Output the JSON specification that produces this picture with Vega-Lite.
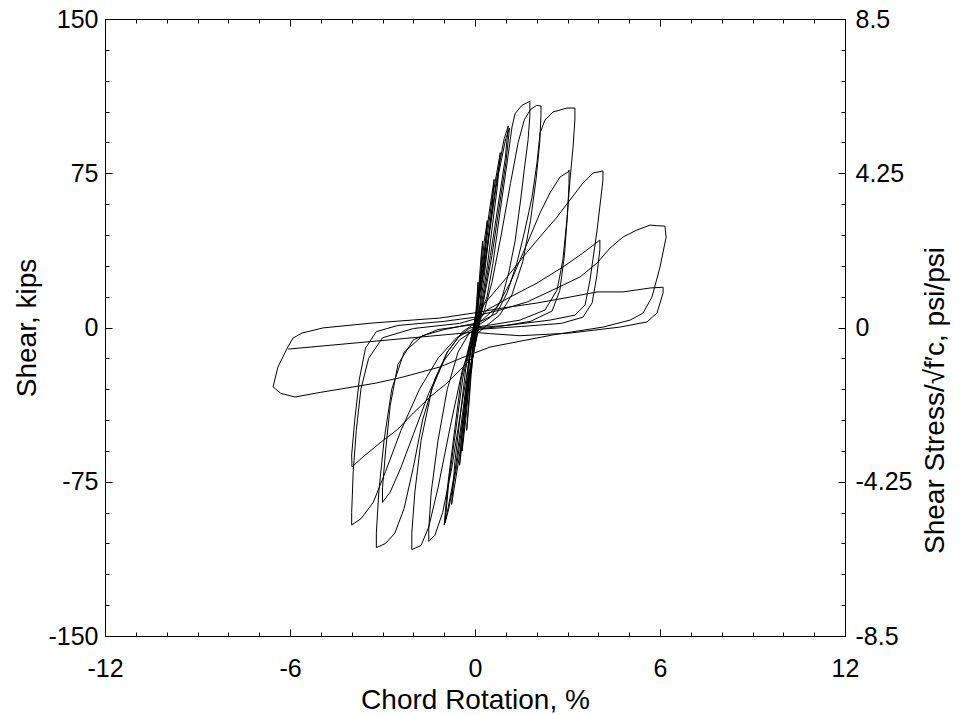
{
  "$schema": "https://vega.github.io/schema/vega-lite/v6.json",
  "width": 740,
  "height": 617,
  "autosize": {"type": "none"},
  "padding": {"left": 105, "top": 19, "right": 122, "bottom": 79},
  "background": "white",
  "config": {
    "view": {"stroke": "black", "strokeWidth": 1},
    "font": "Liberation Sans",
    "axis": {
      "grid": false, "domain": false, "tickColor": "black", "tickWidth": 1,
      "labelColor": "black", "titleColor": "black",
      "labelFont": "Liberation Sans", "titleFont": "Liberation Sans",
      "labelFontSize": 25, "titleFontSize": 28, "titleFontWeight": "normal",
      "labelFlush": false, "labelOverlap": false, "labelBound": false
    }
  },
  "data": {"values": [
    {"i":0,"x":0,"y":0},{"i":1,"x":0.05,"y":12},{"i":2,"x":0.1,"y":22},{"i":3,"x":0.08,"y":10},{"i":4,"x":0.02,"y":0},{"i":5,"x":-0.05,"y":-10},{"i":6,"x":-0.12,"y":-22},{"i":7,"x":-0.08,"y":-10},{"i":8,"x":0,"y":0},
    {"i":9,"x":0.1,"y":15},{"i":10,"x":0.2,"y":35},{"i":11,"x":0.25,"y":42},{"i":12,"x":0.2,"y":30},{"i":13,"x":0.1,"y":8},{"i":14,"x":0.03,"y":0},{"i":15,"x":-0.1,"y":-18},{"i":16,"x":-0.2,"y":-38},{"i":17,"x":-0.27,"y":-50},{"i":18,"x":-0.2,"y":-35},{"i":19,"x":-0.08,"y":-8},{"i":20,"x":0,"y":0},
    {"i":21,"x":0.15,"y":20},{"i":22,"x":0.3,"y":42},{"i":23,"x":0.4,"y":52},{"i":24,"x":0.33,"y":38},{"i":25,"x":0.15,"y":10},{"i":26,"x":0.05,"y":0},{"i":27,"x":-0.15,"y":-20},{"i":28,"x":-0.3,"y":-45},{"i":29,"x":-0.42,"y":-60},{"i":30,"x":-0.33,"y":-42},{"i":31,"x":-0.15,"y":-12},{"i":32,"x":-0.02,"y":0},
    {"i":33,"x":0.2,"y":25},{"i":34,"x":0.45,"y":55},{"i":35,"x":0.62,"y":72},{"i":36,"x":0.55,"y":58},{"i":37,"x":0.3,"y":25},{"i":38,"x":0.08,"y":0},{"i":39,"x":-0.15,"y":-20},{"i":40,"x":-0.35,"y":-48},{"i":41,"x":-0.5,"y":-67},{"i":42,"x":-0.42,"y":-50},{"i":43,"x":-0.2,"y":-15},{"i":44,"x":-0.03,"y":0},
    {"i":45,"x":0.25,"y":28},{"i":46,"x":0.55,"y":62},{"i":47,"x":0.82,"y":85},{"i":48,"x":0.72,"y":68},{"i":49,"x":0.4,"y":30},{"i":50,"x":0.1,"y":0},{"i":51,"x":-0.2,"y":-25},{"i":52,"x":-0.5,"y":-62},{"i":53,"x":-0.76,"y":-86},{"i":54,"x":-0.65,"y":-65},{"i":55,"x":-0.3,"y":-20},{"i":56,"x":-0.05,"y":0},
    {"i":57,"x":0.3,"y":30},{"i":58,"x":0.7,"y":72},{"i":59,"x":0.95,"y":92},{"i":60,"x":1.08,"y":98},{"i":61,"x":0.98,"y":82},{"i":62,"x":0.5,"y":35},{"i":63,"x":0.12,"y":0},{"i":64,"x":-0.25,"y":-28},{"i":65,"x":-0.6,"y":-68},{"i":66,"x":-0.85,"y":-88},{"i":67,"x":-0.97,"y":-95},{"i":68,"x":-0.85,"y":-75},{"i":69,"x":-0.4,"y":-25},{"i":70,"x":-0.05,"y":0},
    {"i":71,"x":0.3,"y":28},{"i":72,"x":0.7,"y":70},{"i":73,"x":1.0,"y":92},{"i":74,"x":1.12,"y":97},{"i":75,"x":1.0,"y":80},{"i":76,"x":0.55,"y":35},{"i":77,"x":0.12,"y":0},{"i":78,"x":-0.3,"y":-30},{"i":79,"x":-0.65,"y":-70},{"i":80,"x":-0.9,"y":-90},{"i":81,"x":-1.0,"y":-96},{"i":82,"x":-0.88,"y":-76},{"i":83,"x":-0.45,"y":-25},{"i":84,"x":-0.05,"y":0},
    {"i":85,"x":0.16,"y":6},{"i":86,"x":0.39,"y":15},{"i":87,"x":0.58,"y":31},{"i":88,"x":0.81,"y":56},{"i":89,"x":1.04,"y":80},{"i":90,"x":1.2,"y":97.5},{"i":91,"x":1.3,"y":104},{"i":92,"x":1.52,"y":108},{"i":93,"x":1.78,"y":110},{"i":94,"x":1.78,"y":103},{"i":95,"x":1.72,"y":91},{"i":96,"x":1.6,"y":77},{"i":97,"x":1.48,"y":62},{"i":98,"x":1.3,"y":42},{"i":99,"x":1.1,"y":27},{"i":100,"x":0.85,"y":13},{"i":101,"x":0.5,"y":5},{"i":102,"x":0.1,"y":1},{"i":103,"x":-0.1,"y":-8},{"i":104,"x":-0.4,"y":-35},{"i":105,"x":-0.75,"y":-68},{"i":106,"x":-1.05,"y":-90},{"i":107,"x":-1.3,"y":-101},{"i":108,"x":-1.5,"y":-104},{"i":109,"x":-1.5,"y":-98},{"i":110,"x":-1.42,"y":-80},{"i":111,"x":-1.2,"y":-55},{"i":112,"x":-0.9,"y":-30},{"i":113,"x":-0.55,"y":-12},{"i":114,"x":-0.2,"y":-3},{"i":115,"x":0.05,"y":0},
    {"i":116,"x":0.3,"y":8},{"i":117,"x":0.55,"y":22},{"i":118,"x":0.85,"y":45},{"i":119,"x":1.15,"y":70},{"i":120,"x":1.4,"y":90},{"i":121,"x":1.6,"y":101},{"i":122,"x":1.8,"y":106},{"i":123,"x":2.0,"y":108},{"i":124,"x":2.14,"y":107.7},{"i":125,"x":2.14,"y":103},{"i":126,"x":2.1,"y":90},{"i":127,"x":1.98,"y":72},{"i":128,"x":1.8,"y":52},{"i":129,"x":1.55,"y":32},{"i":130,"x":1.2,"y":16},{"i":131,"x":0.8,"y":6},{"i":132,"x":0.3,"y":0},{"i":133,"x":0,"y":-4},{"i":134,"x":-0.4,"y":-20},{"i":135,"x":-0.8,"y":-48},{"i":136,"x":-1.2,"y":-78},{"i":137,"x":-1.5,"y":-97},{"i":138,"x":-1.75,"y":-106},{"i":139,"x":-2.05,"y":-108},{"i":140,"x":-2.05,"y":-100},{"i":141,"x":-1.95,"y":-80},{"i":142,"x":-1.75,"y":-55},{"i":143,"x":-1.4,"y":-30},{"i":144,"x":-0.9,"y":-12},{"i":145,"x":-0.4,"y":-2},{"i":146,"x":0,"y":2},
    {"i":147,"x":0.16,"y":2.7},{"i":148,"x":0.71,"y":7},{"i":149,"x":1.04,"y":16.8},{"i":150,"x":1.36,"y":31.4},{"i":151,"x":1.62,"y":47.4},{"i":152,"x":1.85,"y":63.4},{"i":153,"x":2.01,"y":80},{"i":154,"x":2.11,"y":94.6},{"i":155,"x":2.27,"y":100.9},{"i":156,"x":2.53,"y":104.8},{"i":157,"x":2.98,"y":106.7},{"i":158,"x":3.24,"y":106.7},{"i":159,"x":3.24,"y":100.9},{"i":160,"x":3.18,"y":87.7},{"i":161,"x":3.08,"y":71.7},{"i":162,"x":2.98,"y":52.3},{"i":163,"x":2.85,"y":32.8},{"i":164,"x":2.66,"y":18.2},{"i":165,"x":2.27,"y":8.5},{"i":166,"x":1.46,"y":3.6},{"i":167,"x":0.49,"y":1.2},{"i":168,"x":-0.16,"y":-0.2},{"i":169,"x":-0.5,"y":-4},{"i":170,"x":-0.9,"y":-12},{"i":171,"x":-1.3,"y":-25},{"i":172,"x":-1.7,"y":-45},{"i":173,"x":-2.0,"y":-68},{"i":174,"x":-2.3,"y":-88},{"i":175,"x":-2.6,"y":-100},{"i":176,"x":-2.9,"y":-105},{"i":177,"x":-3.2,"y":-107},{"i":178,"x":-3.2,"y":-100},{"i":179,"x":-3.12,"y":-80},{"i":180,"x":-2.95,"y":-55},{"i":181,"x":-2.7,"y":-30},{"i":182,"x":-2.3,"y":-12},{"i":183,"x":-1.7,"y":-4},{"i":184,"x":-1.0,"y":-1},{"i":185,"x":0,"y":2},
    {"i":186,"x":0.16,"y":2.7},{"i":187,"x":0.71,"y":10},{"i":188,"x":1.14,"y":21.6},{"i":189,"x":1.46,"y":32.8},{"i":190,"x":1.78,"y":44},{"i":191,"x":2.11,"y":55.7},{"i":192,"x":2.43,"y":65.4},{"i":193,"x":2.76,"y":73.2},{"i":194,"x":3.02,"y":75.6},{"i":195,"x":3.05,"y":76.5},{"i":196,"x":3.05,"y":70},{"i":197,"x":3.0,"y":55},{"i":198,"x":2.9,"y":35},{"i":199,"x":2.75,"y":18},{"i":200,"x":2.5,"y":8},{"i":201,"x":1.8,"y":3},{"i":202,"x":0.8,"y":0.5},{"i":203,"x":0,"y":-1},{"i":204,"x":-0.5,"y":-6},{"i":205,"x":-1.0,"y":-16},{"i":206,"x":-1.5,"y":-32},{"i":207,"x":-2.0,"y":-52},{"i":208,"x":-2.4,"y":-68},{"i":209,"x":-2.75,"y":-80},{"i":210,"x":-3.0,"y":-85},{"i":211,"x":-3.0,"y":-78},{"i":212,"x":-2.9,"y":-60},{"i":213,"x":-2.75,"y":-38},{"i":214,"x":-2.5,"y":-18},{"i":215,"x":-2.0,"y":-6},{"i":216,"x":-1.2,"y":-1},{"i":217,"x":0,"y":1.5},
    {"i":218,"x":0.06,"y":7},{"i":219,"x":0.49,"y":14.8},{"i":220,"x":1.04,"y":24.5},{"i":221,"x":1.56,"y":34.3},{"i":222,"x":2.21,"y":45.9},{"i":223,"x":2.66,"y":53.7},{"i":224,"x":3.08,"y":62},{"i":225,"x":3.5,"y":70.2},{"i":226,"x":3.83,"y":75.1},{"i":227,"x":4.15,"y":76.1},{"i":228,"x":4.15,"y":71.7},{"i":229,"x":3.96,"y":47.4},{"i":230,"x":3.73,"y":23.1},{"i":231,"x":3.57,"y":10.9},{"i":232,"x":3.24,"y":6},{"i":233,"x":2.43,"y":3.6},{"i":234,"x":1.14,"y":1.2},{"i":235,"x":0,"y":-0.2},{"i":236,"x":-0.6,"y":-5},{"i":237,"x":-1.2,"y":-15},{"i":238,"x":-1.8,"y":-30},{"i":239,"x":-2.4,"y":-50},{"i":240,"x":-2.9,"y":-70},{"i":241,"x":-3.3,"y":-85},{"i":242,"x":-3.7,"y":-93},{"i":243,"x":-4.0,"y":-96},{"i":244,"x":-4.0,"y":-90},{"i":245,"x":-3.95,"y":-70},{"i":246,"x":-3.85,"y":-50},{"i":247,"x":-3.7,"y":-30},{"i":248,"x":-3.45,"y":-15},{"i":249,"x":-3.0,"y":-5},{"i":250,"x":-2.0,"y":-0.5},{"i":251,"x":-0.5,"y":2},{"i":252,"x":0.2,"y":5},
    {"i":253,"x":0.39,"y":8.5},{"i":254,"x":1.14,"y":14.8},{"i":255,"x":2.01,"y":21.6},{"i":256,"x":2.85,"y":29.4},{"i":257,"x":3.5,"y":36.2},{"i":258,"x":4.05,"y":42.5},{"i":259,"x":4.05,"y":38},{"i":260,"x":3.95,"y":25},{"i":261,"x":3.8,"y":12},{"i":262,"x":3.5,"y":5},{"i":263,"x":2.8,"y":2},{"i":264,"x":1.5,"y":0.5},{"i":265,"x":0,"y":-1},{"i":266,"x":-0.06,"y":-14.3},{"i":267,"x":-0.39,"y":-19.2},{"i":268,"x":-0.91,"y":-27},{"i":269,"x":-1.46,"y":-33.8},{"i":270,"x":-2.0,"y":-41.6},{"i":271,"x":-2.53,"y":-49.8},{"i":272,"x":-3.08,"y":-56.1},{"i":273,"x":-3.63,"y":-62.9},{"i":274,"x":-3.99,"y":-67.8},{"i":275,"x":-4.0,"y":-62},{"i":276,"x":-3.9,"y":-45},{"i":277,"x":-3.75,"y":-25},{"i":278,"x":-3.55,"y":-10},{"i":279,"x":-3.2,"y":-2},{"i":280,"x":-2.5,"y":1},{"i":281,"x":-1.0,"y":3},{"i":282,"x":0,"y":5},
    {"i":283,"x":0.16,"y":6.1},{"i":284,"x":0.81,"y":8.5},{"i":285,"x":1.69,"y":12.4},{"i":286,"x":2.66,"y":19.2},{"i":287,"x":3.41,"y":24.6},{"i":288,"x":3.96,"y":31.4},{"i":289,"x":4.38,"y":38.6},{"i":290,"x":4.8,"y":44},{"i":291,"x":5.25,"y":47.4},{"i":292,"x":5.68,"y":49.8},{"i":293,"x":5.9,"y":49.5},{"i":294,"x":6.16,"y":49.3},{"i":295,"x":6.2,"y":44},{"i":296,"x":6.0,"y":29.4},{"i":297,"x":5.74,"y":14.8},{"i":298,"x":5.45,"y":7},{"i":299,"x":5.03,"y":3.6},{"i":300,"x":4.15,"y":0.2},{"i":301,"x":2.53,"y":-3.6},{"i":302,"x":0.49,"y":-9.5},{"i":303,"x":-0.3,"y":-14},{"i":304,"x":-1.14,"y":-19.2},{"i":305,"x":-2.34,"y":-24.1},{"i":306,"x":-3.2,"y":-27},{"i":307,"x":-4.15,"y":-29.4},{"i":308,"x":-5.0,"y":-31.5},{"i":309,"x":-5.84,"y":-33.8},{"i":310,"x":-6.3,"y":-32},{"i":311,"x":-6.55,"y":-28.9},{"i":312,"x":-6.39,"y":-19.2},{"i":313,"x":-6.23,"y":-14.3},{"i":314,"x":-6.07,"y":-9.5},{"i":315,"x":-5.9,"y":-5.1},{"i":316,"x":-5.61,"y":-2.7},{"i":317,"x":-4.93,"y":-0.2},{"i":318,"x":-3.31,"y":2.2},{"i":319,"x":-1.14,"y":4.6},{"i":320,"x":-0.06,"y":7},
    {"i":321,"x":0.91,"y":9.5},{"i":322,"x":2.01,"y":11.9},{"i":323,"x":3.08,"y":14.8},{"i":324,"x":3.96,"y":17.3},{"i":325,"x":4.8,"y":17.3},{"i":326,"x":5.68,"y":19.2},{"i":327,"x":6.1,"y":19.6},{"i":328,"x":6.1,"y":16.8},{"i":329,"x":5.9,"y":7},{"i":330,"x":5.58,"y":2.7},{"i":331,"x":4.7,"y":0.2},{"i":332,"x":3.08,"y":-2.7},{"i":333,"x":1.46,"y":-4},{"i":334,"x":0.5,"y":-3},{"i":335,"x":-0.06,"y":-2.3},{"i":336,"x":-6.06,"y":-10.5}
  ]},
  "layer": [
    {
      "mark": {"type": "line", "color": "black", "strokeWidth": 1},
      "encoding": {
        "x": {"field": "x", "type": "quantitative", "scale": {"domain": [-12, 12], "nice": false, "zero": false},
              "axis": {"orient": "bottom", "values": [-12, -6, 0, 6, 12], "tickSize": -7, "labelPadding": 27, "labelFontSize": 25, "labelExpr": "'' + datum.value", "title": "Chord Rotation, %", "titlePadding": 5}},
        "y": {"field": "y", "type": "quantitative", "scale": {"domain": [-150, 150], "nice": false, "zero": false},
              "axis": {"orient": "left", "values": [-150, -75, 0, 75, 150], "tickSize": -7, "labelPadding": 14, "labelFontSize": 25, "labelExpr": "'' + datum.value", "title": "Shear, kips", "titlePadding": 6}},
        "order": {"field": "i", "type": "quantitative"}
      }
    },
    {
      "mark": {"type": "point", "opacity": 0},
      "encoding": {
        "x": {"field": "x", "type": "quantitative", "scale": {"domain": [-12, 12], "nice": false, "zero": false},
              "axis": {"orient": "bottom", "values": [-11, -10, -9, -8, -7, -5, -4, -3, -2, -1, 1, 2, 3, 4, 5, 7, 8, 9, 10, 11], "tickSize": -4, "labels": false, "title": null}},
        "y": {"field": "y", "type": "quantitative", "scale": {"domain": [-150, 150], "nice": false, "zero": false},
              "axis": {"orient": "left", "values": [-135, -120, -105, -90, -60, -45, -30, -15, 15, 30, 45, 60, 90, 105, 120, 135], "tickSize": -4, "labels": false, "title": null}}
      }
    },
    {
      "mark": {"type": "point", "opacity": 0},
      "encoding": {
        "x": {"field": "x", "type": "quantitative", "scale": {"domain": [-12, 12], "nice": false, "zero": false},
              "axis": {"orient": "top", "values": [-12, -6, 0, 6, 12], "tickSize": -7, "labels": false, "title": null}},
        "y": {"field": "y", "type": "quantitative", "scale": {"domain": [-150, 150], "nice": false, "zero": false},
              "axis": {"orient": "right", "values": [-150, -75, 0, 75, 150], "tickSize": -7, "labelPadding": 17, "labelFontSize": 25,
                       "labelExpr": "datum.value == 150 ? '8.5' : datum.value == 75 ? '4.25' : datum.value == 0 ? '0' : datum.value == -75 ? '-4.25' : '-8.5'",
                       "title": "Shear Stress/√f′c, psi/psi", "titleAngle": 270, "titleBaseline": "top", "titleAlign": "center", "titleY": 381, "titlePadding": 10}}
      }
    },
    {
      "mark": {"type": "point", "opacity": 0},
      "encoding": {
        "x": {"field": "x", "type": "quantitative", "scale": {"domain": [-12, 12], "nice": false, "zero": false},
              "axis": {"orient": "top", "values": [-11, -10, -9, -8, -7, -5, -4, -3, -2, -1, 1, 2, 3, 4, 5, 7, 8, 9, 10, 11], "tickSize": -4, "labels": false, "title": null}},
        "y": {"field": "y", "type": "quantitative", "scale": {"domain": [-150, 150], "nice": false, "zero": false},
              "axis": {"orient": "right", "values": [-135, -120, -105, -90, -60, -45, -30, -15, 15, 30, 45, 60, 90, 105, 120, 135], "tickSize": -4, "labels": false, "title": null}}
      }
    }
  ],
  "resolve": {"axis": {"x": "independent", "y": "independent"}}
}
